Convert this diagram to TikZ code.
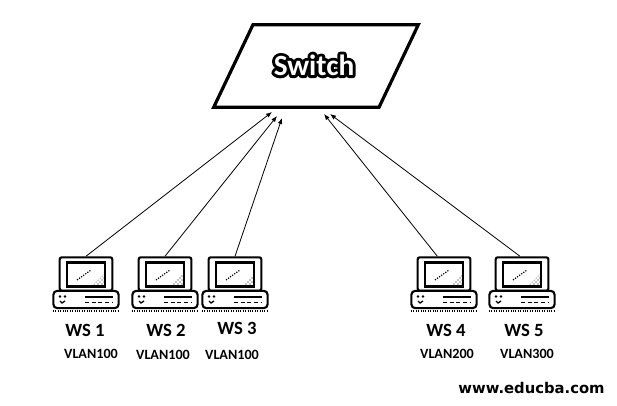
\documentclass[tikz,border=0pt]{standalone}
\usepackage{fontspec}
\setmainfont{Carlito}
\newfontfamily\webfont{DejaVu Sans}
\newfontface\haloface[FakeBold=20]{Carlito Bold}
\usetikzlibrary{patterns,arrows.meta,positioning}
\tikzset{
    switchbox/.style={draw, transform shape, xslant=0.476, line width=2.4pt, minimum width=124pt, minimum height=62pt, inner sep=0pt, outer sep=0pt},
    monitorbox/.style={draw, line width=1.6pt, rounded corners=1.5pt, minimum width=39.5pt, minimum height=25pt, inner sep=0pt},
    screenbox/.style={draw, line width=2.2pt, minimum width=28.5pt, minimum height=17.5pt, inner sep=0pt},
    basebox/.style={draw, line width=1.6pt, rounded corners=3pt, minimum width=49pt, minimum height=13pt, inner sep=0pt},
    wslabel/.style={font=\fontsize{14}{16}\selectfont\bfseries, inner sep=0pt},
    vlanlabel/.style={font=\fontsize{10.6}{12}\selectfont\bfseries, inner sep=0pt},
    link/.style={-{Latex[length=4.5pt,width=3.5pt]}, line width=0.6pt},
    pics/workstation/.style={code={
        \node[monitorbox] (-monitor) at (0,17) {};
        \node[screenbox] (-screen) at (0,17.5) {};
        \node[basebox] (-base) at (0,42.5) {};
        \fill[pattern=crosshatch dots] (19,28) -- (19,16) -- (7,28) -- cycle;
        \draw[densely dotted, line width=0.9pt] (-9,23) -- (5,13);
        \fill (-26,39.5) circle (1.1pt) (-21,39.5) circle (1.1pt);
        \draw[line width=1pt] (-26,44) -- (-24,46) -- (-21,44);
        \draw[line width=2.2pt] (-1,40) -- (27,40);
        \draw[densely dashed, line width=0.7pt] (-1,45) -- (27,45);
        \draw[densely dotted, line width=0.8pt] (-33,54) -- (33,54);
    }}
}

\begin{document}
\begin{tikzpicture}[x=0.75pt, y=-0.75pt]
    \useasboundingbox (0,0) rectangle (617,406);

    \node[switchbox] (switch) at (316,66) {};
    \node[font=\haloface\fontsize{22}{24}\selectfont] (switchhalo) at (314,65) {\special{pdf:code 1 j 1 J}Switch};
    \node[font=\fontsize{22}{24}\selectfont\bfseries, text=white] (switchtext) at (314,65) {Switch};

    \pic (wsa) at (86,257) {workstation};
    \pic (wsb) at (165,257) {workstation};
    \pic (wsc) at (235,257) {workstation};
    \pic (wsd) at (444,257) {workstation};
    \pic (wse) at (522,257) {workstation};

    \node[wslabel] (wsatext) at (85,330) {WS 1};
    \node[wslabel] (wsbtext) at (166,330) {WS 2};
    \node[wslabel] (wsctext) at (237,328) {WS 3};
    \node[wslabel] (wsdtext) at (446,330) {WS 4};
    \node[wslabel] (wsetext) at (524,330) {WS 5};

    \node[vlanlabel] (vlana) at (91,354) {VLAN100};
    \node[vlanlabel] (vlanb) at (163,355) {VLAN100};
    \node[vlanlabel] (vlanc) at (232,355) {VLAN100};
    \node[vlanlabel] (vland) at (447,354) {VLAN200};
    \node[vlanlabel] (vlane) at (527,354) {VLAN300};

    \node[font=\webfont\fontsize{11.1}{14}\selectfont\bfseries, inner sep=0pt] (web) at (531.5,388) {www.educba.com};

    \coordinate (porta) at (272,112);
    \coordinate (portb) at (277,116);
    \coordinate (portc) at (282,118);
    \coordinate (portd) at (324,114);
    \coordinate (porte) at (330,114);

    \draw[link] (wsa-monitor.north) -- (porta);
    \draw[link] (wsb-monitor.north) -- (portb);
    \draw[link] (wsc-monitor.north) -- (portc);
    \draw[link] ([xshift=-5pt]wsd-monitor.north) -- (portd);
    \draw[link] ([xshift=-1.5pt]wse-monitor.north) -- (porte);
\end{tikzpicture}
\end{document}
